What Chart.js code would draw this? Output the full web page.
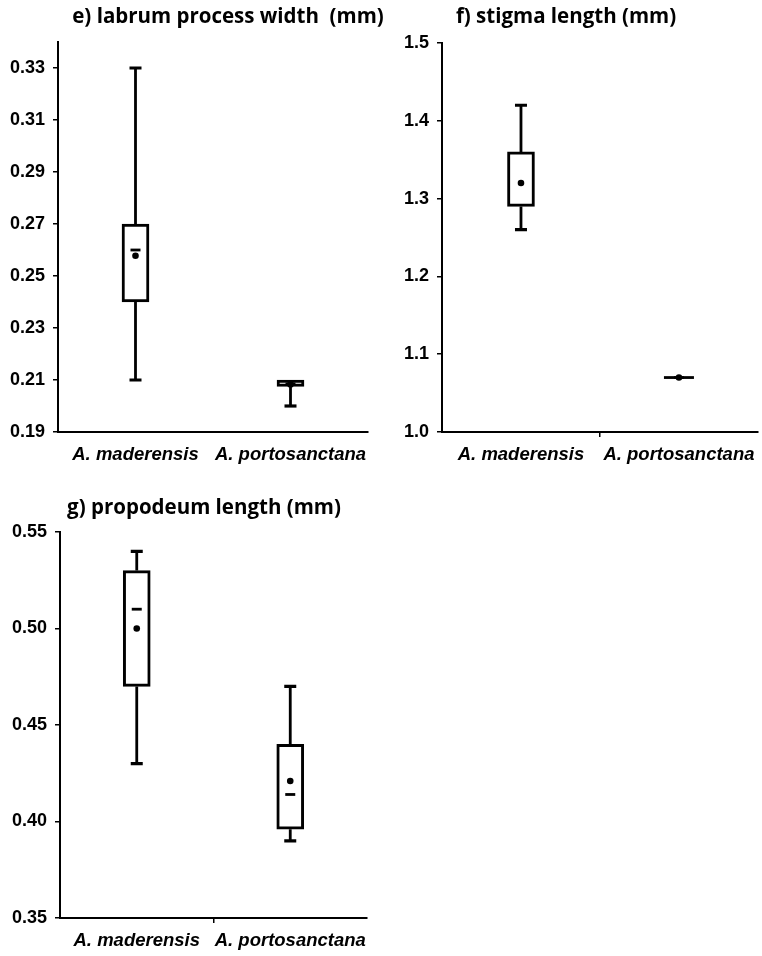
<!DOCTYPE html>
<html>
<head>
<meta charset="utf-8">
<script src="https://cdn.jsdelivr.net/npm/chart.js@4.4.1/dist/chart.umd.min.js"></script>
<style>
  body { margin: 0; background: #fff; }
  .wrap { position: relative; width: 762px; height: 956px; }
  canvas { position: absolute; }
</style>
</head>
<body>
<div class="wrap">
  <canvas id="chartE" style="left:0;top:0;width:390px;height:470px"></canvas>
  <canvas id="chartF" style="left:390px;top:0;width:372px;height:470px"></canvas>
  <canvas id="chartG" style="left:0;top:470px;width:390px;height:486px"></canvas>
</div>
<script>
const categories = ['A. maderensis', 'A. portosanctana'];

// e) labrum process width
const eMin  = [0.21, 0.20];
const eQ1   = [0.24, 0.2075];
const eMed  = [0.26, 0.2085];
const eQ3   = [0.27, 0.21];
const eMax  = [0.33, 0.21];
const eMean = [0.2578, 0.2083];
const eTicks = [0.19, 0.21, 0.23, 0.25, 0.27, 0.29, 0.31, 0.33];

// f) stigma length
const fMin  = [1.26, 1.07];
const fQ1   = [1.29, 1.07];
const fMed  = [null, 1.07];
const fQ3   = [1.36, 1.07];
const fMax  = [1.42, 1.07];
const fMean = [1.32, 1.07];
const fTicks = [1.0, 1.1, 1.2, 1.3, 1.4, 1.5];

// g) propodeum length
const gMin  = [0.43, 0.39];
const gQ1   = [0.47, 0.396];
const gMed  = [0.51, 0.414];
const gQ3   = [0.53, 0.44];
const gMax  = [0.54, 0.47];
const gMean = [0.50, 0.421];
const gTicks = [0.35, 0.40, 0.45, 0.50, 0.55];

const BOX_W = 27;

// whiskers, caps, median, mean and panel title
const boxExtras = {
    id: 'boxExtras',
    afterDatasetsDraw(chart, args, opts) {
        const ctx = chart.ctx;
        const xs = chart.scales.x, ys = chart.scales.y;
        const s = opts.stats;
        ctx.save();
        ctx.strokeStyle = '#000';
        ctx.fillStyle = '#000';
        for (let i = 0; i < categories.length; i++) {
            const cx = xs.getPixelForValue(i);
            const yMin = ys.getPixelForValue(s.min[i]);
            const yMax = ys.getPixelForValue(s.max[i]);
            const yQ1 = ys.getPixelForValue(s.q1[i]);
            const yQ3 = ys.getPixelForValue(s.q3[i]);
            ctx.lineWidth = 2.8;
            ctx.beginPath();
            ctx.moveTo(cx, yQ3); ctx.lineTo(cx, yMax);
            ctx.moveTo(cx, yQ1); ctx.lineTo(cx, yMin);
            ctx.stroke();
            ctx.lineWidth = 3.2;
            ctx.beginPath();
            if (s.max[i] !== s.q3[i]) { ctx.moveTo(cx - 6, yMax); ctx.lineTo(cx + 6, yMax); }
            if (s.min[i] !== s.q1[i]) { ctx.moveTo(cx - 6, yMin); ctx.lineTo(cx + 6, yMin); }
            ctx.stroke();
            if (s.q1[i] === s.q3[i]) {
                ctx.lineWidth = 2.8;
                ctx.beginPath();
                ctx.moveTo(cx - 15, yQ1); ctx.lineTo(cx + 15, yQ1);
                ctx.stroke();
            }
            if (s.med[i] !== null) {
                const yMed = ys.getPixelForValue(s.med[i]);
                ctx.lineWidth = 2.8;
                ctx.beginPath();
                ctx.moveTo(cx - 5, yMed); ctx.lineTo(cx + 5, yMed);
                ctx.stroke();
            }
            ctx.beginPath();
            ctx.arc(cx, ys.getPixelForValue(s.mean[i]), 3.3, 0, Math.PI * 2);
            ctx.fill();
        }
        ctx.font = 'bold 20.5px "Open Sans"';
        ctx.textAlign = 'center';
        ctx.textBaseline = 'middle';
        ctx.fillText(opts.title, opts.titleX, opts.titleY);
        ctx.restore();
    }
};

function makeChart(id, stats, ticks, opt) {
    const ctx = document.getElementById(id).getContext('2d');
    return new Chart(ctx, {
        type: 'bar',
        data: {
            labels: categories,
            datasets: [{
                data: stats.q1.map((v, i) => [v, stats.q3[i]]),
                backgroundColor: '#fff',
                borderColor: '#000',
                borderWidth: 3,
                borderSkipped: false,
                barThickness: BOX_W
            }]
        },
        options: {
            responsive: false,
            animation: false,
            layout: { padding: { top: opt.top, right: opt.right, left: 0, bottom: 0 } },
            plugins: {
                legend: { display: false },
                tooltip: { enabled: false },
                boxExtras: { stats: stats, title: opt.title, titleX: opt.titleX, titleY: opt.titleY }
            },
            scales: {
                x: {
                    grid: {
                        drawOnChartArea: false,
                        drawTicks: true,
                        tickLength: 5,
                        lineWidth: 1.5,
                        color: c => (opt.midTick && c.index === 1) ? '#000' : 'rgba(0,0,0,0)'
                    },
                    border: { color: '#000', width: 2 },
                    ticks: {
                        color: '#000',
                        padding: 7,
                        autoSkip: false,
                        maxRotation: 0,
                        minRotation: 0,
                        font: { family: 'Liberation Sans', size: 18.5, weight: 'bold', style: 'italic' }
                    },
                    afterFit: s => { s.height = 38; }
                },
                y: {
                    min: opt.min,
                    max: opt.max,
                    afterBuildTicks: s => { s.ticks = ticks.map(v => ({ value: v })); },
                    grid: { drawOnChartArea: false, drawTicks: true, tickLength: 5, color: '#000', lineWidth: 1.5 },
                    border: { color: '#000', width: 2 },
                    ticks: {
                        color: '#000',
                        padding: 8,
                        font: { family: 'Liberation Sans', size: 18, weight: 'bold' },
                        callback: v => v.toFixed(opt.dec)
                    },
                    afterFit: s => { s.width = opt.yw; }
                }
            }
        },
        plugins: [boxExtras]
    });
}

function setSize(id, w, h) {
    const c = document.getElementById(id);
    c.width = w; c.height = h;
}
setSize('chartE', 390, 470);
setSize('chartF', 372, 470);
setSize('chartG', 390, 486);

makeChart('chartE',
    { min: eMin, q1: eQ1, med: eMed, q3: eQ3, max: eMax, mean: eMean }, eTicks,
    { top: 42, right: 22, yw: 58, min: 0.19, max: 0.34, dec: 2, midTick: false,
      title: 'e) labrum process width  (mm)', titleX: 228, titleY: 17 });

makeChart('chartF',
    { min: fMin, q1: fQ1, med: fMed, q3: fQ3, max: fMax, mean: fMean }, fTicks,
    { top: 43, right: 2, yw: 52, min: 1.0, max: 1.5, dec: 1, midTick: true,
      title: 'f) stigma length (mm)', titleX: 176, titleY: 17 });

makeChart('chartG',
    { min: gMin, q1: gQ1, med: gMed, q3: gQ3, max: gMax, mean: gMean }, gTicks,
    { top: 62, right: 23, yw: 60, min: 0.35, max: 0.55, dec: 2, midTick: true,
      title: 'g) propodeum length (mm)', titleX: 204, titleY: 38 });
</script>
</body>
</html>
